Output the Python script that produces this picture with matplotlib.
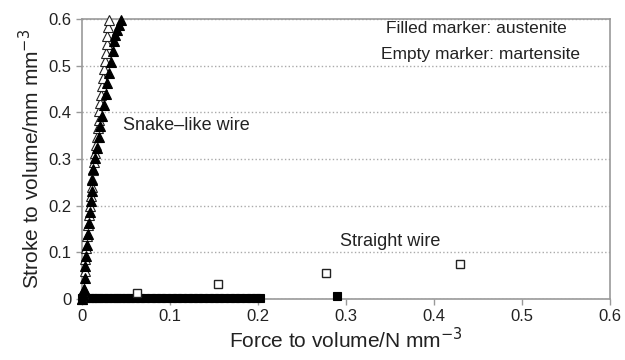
import matplotlib
matplotlib.use("Agg")
import matplotlib.pyplot as plt

plt.rcParams['font.family'] = ['Liberation Sans', 'DejaVu Sans']

# snake-like wire, austenite (filled) and martensite (empty)
snake_aus_x = [0.000, 0.001, 0.002, 0.003, 0.004, 0.005, 0.006, 0.007, 0.008, 0.009,
               0.010, 0.011, 0.012, 0.013, 0.015, 0.017, 0.019, 0.021, 0.023, 0.025,
               0.027, 0.029, 0.031, 0.033, 0.035, 0.037, 0.038, 0.040, 0.042, 0.044]
snake_aus_y = [0.000, 0.010, 0.020, 0.045, 0.070, 0.092, 0.115, 0.140, 0.163, 0.186,
               0.209, 0.232, 0.255, 0.278, 0.301, 0.324, 0.347, 0.370, 0.393, 0.416,
               0.439, 0.462, 0.485, 0.508, 0.531, 0.554, 0.565, 0.577, 0.588, 0.597]
snake_mar_x = [0.000, 0.001, 0.002, 0.003, 0.004, 0.005, 0.006, 0.007, 0.008, 0.009,
               0.010, 0.011, 0.012, 0.013, 0.014, 0.015, 0.016, 0.017, 0.018, 0.019,
               0.020, 0.021, 0.022, 0.023, 0.024, 0.025, 0.026, 0.027, 0.028, 0.029,
               0.030, 0.031]
snake_mar_y = [0.000, 0.010, 0.020, 0.060, 0.085, 0.110, 0.135, 0.158, 0.180, 0.200,
               0.220, 0.240, 0.258, 0.276, 0.294, 0.312, 0.330, 0.348, 0.366, 0.384,
               0.402, 0.420, 0.438, 0.456, 0.474, 0.492, 0.510, 0.528, 0.546, 0.564,
               0.582, 0.597]

# straight wire
straight_aus_x = [0.000, 0.004, 0.008, 0.012, 0.016, 0.020, 0.025, 0.030, 0.035, 0.040,
                  0.045, 0.050, 0.055, 0.060, 0.066, 0.072, 0.078, 0.084, 0.090, 0.096,
                  0.102, 0.108, 0.114, 0.120, 0.126, 0.132, 0.138, 0.144, 0.150, 0.156,
                  0.162, 0.168, 0.174, 0.180, 0.186, 0.192, 0.198, 0.202, 0.290]
straight_aus_y = [0.001] * 38 + [0.005]
straight_mar_x = [0.063, 0.155, 0.277, 0.430]
straight_mar_y = [0.012, 0.032, 0.055, 0.075]

fig, ax = plt.subplots(figsize=(6.25, 3.6), dpi=100)
fig.subplots_adjust(left=0.131, right=0.976, top=0.947, bottom=0.17)

ax.plot(straight_aus_x, straight_aus_y, 's', color='black', ms=6, mew=0.8, clip_on=False, zorder=3)
ax.plot(straight_mar_x, straight_mar_y, 's', mfc='white', mec='#222222', ms=6, mew=1.0, clip_on=False, zorder=3)
ax.plot(snake_mar_x, snake_mar_y, '^', mfc='white', mec='#222222', ms=6.5, mew=0.8, clip_on=False, zorder=3)
ax.plot(snake_aus_x, snake_aus_y, '^', color='black', ms=6.5, mew=0.8, clip_on=False, zorder=4)

ax.set_xlim(0, 0.6)
ax.set_ylim(0, 0.6)
ax.set_xticks([0, 0.1, 0.2, 0.3, 0.4, 0.5, 0.6])
ax.set_xticklabels(['0', '0.1', '0.2', '0.3', '0.4', '0.5', '0.6'])
ax.set_yticks([0, 0.1, 0.2, 0.3, 0.4, 0.5, 0.6])
ax.set_yticklabels(['0', '0.1', '0.2', '0.3', '0.4', '0.5', '0.6'])
ax.yaxis.grid(True, linestyle=':', color='#aaaaaa', linewidth=1.0)
ax.set_axisbelow(True)
for s in ax.spines.values():
    s.set_color('#999999')
    s.set_linewidth(1.2)
ax.tick_params(colors='#999999', labelcolor='#222222', labelsize=12, length=4, width=1)

ax.set_xlabel('Force to volume/N mm$^{-3}$', fontsize=15, color='#222222', labelpad=2)
ax.set_ylabel('Stroke to volume/mm mm$^{-3}$', fontsize=15, color='#222222', labelpad=4)

ax.text(0.345, 0.579, 'Filled marker: austenite', fontsize=12.5, ha='left', va='center', color='#222222')
ax.text(0.340, 0.524, 'Empty marker: martensite', fontsize=12.5, ha='left', va='center', color='#222222')
ax.text(0.047, 0.372, 'Snake\u2013like wire', fontsize=13, ha='left', va='center', color='#222222')
ax.text(0.293, 0.122, 'Straight wire', fontsize=13, ha='left', va='center', color='#222222')

fig.savefig('out.png')
